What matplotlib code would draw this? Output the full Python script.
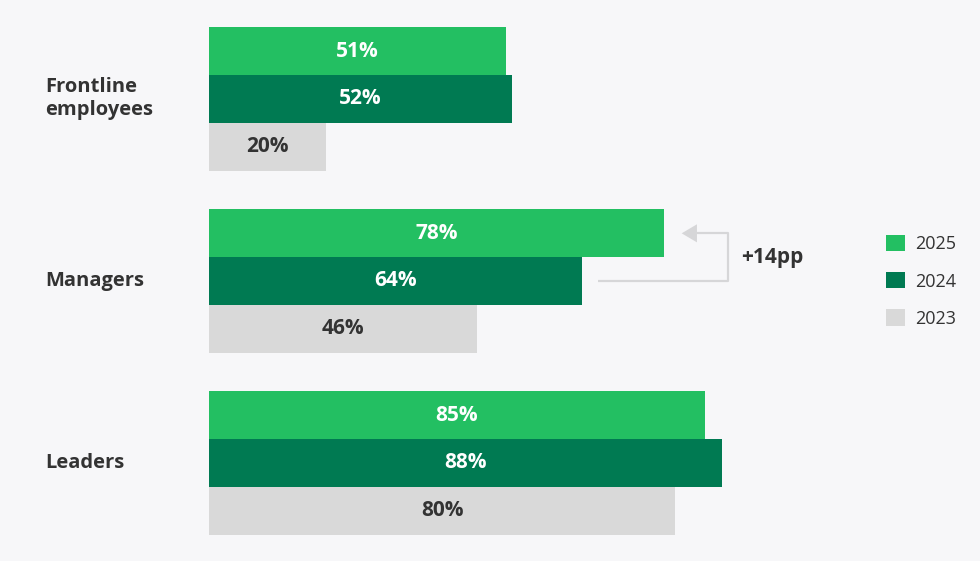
import matplotlib.pyplot as plt
from matplotlib.patches import Patch

groups = ["Frontline\nemployees", "Managers", "Leaders"]
years = ["2025", "2024", "2023"]
values = {
    "2025": [51, 78, 85],
    "2024": [52, 64, 88],
    "2023": [20, 46, 80],
}
colors = {"2025": "#23bf62", "2024": "#007a52", "2023": "#d9d9d9"}
label_colors = {"2025": "white", "2024": "white", "2023": "#333333"}
bg = "#f7f7f9"

plt.rcParams['font.family'] = ['Open Sans', 'DejaVu Sans']

fig = plt.figure(figsize=(9.8, 5.61), dpi=100, facecolor=bg)
ax = fig.add_axes([0, 0, 1, 1])
ax.set_facecolor(bg)

px = 5.83          # pixels per percentage point
gap = 182.0        # pixels between group centres
ax.set_xlim(-209 / px, (980 - 209) / px)
ax.set_ylim((561 - 99) / gap, -99 / gap)
ax.axis("off")

h = 0.262
for i, yr in enumerate(years):
    off = (i - 1) * h
    for g, v in enumerate(values[yr]):
        ax.barh(g + off, v, height=h, color=colors[yr], edgecolor="none")
        ax.text(v / 2, g + off, f"{v}%", ha="center", va="center",
                fontsize=15, fontweight="bold", color=label_colors[yr])

for g, name in enumerate(groups):
    ax.text(-164 / px, g, name, ha="left", va="center", fontsize=14.5,
            fontweight="bold", color="#333333", linespacing=1.2)

# +14pp bracket for Managers (2024 -> 2025)
grey = "#d6d6d8"
v25 = values["2025"][1]
x0 = values["2024"][1] + 2.7
xr = v25 + 11.0
y25 = 1 - h
y24 = 1
ax.plot([x0, xr, xr, v25 + 5.0], [y24, y24, y25, y25],
        color=grey, lw=1.6, solid_capstyle="butt")
ax.annotate("", xy=(v25 + 2.6, y25), xytext=(v25 + 5.4, y25),
            arrowprops=dict(arrowstyle="-|>,head_length=1.1,head_width=0.65",
                            color=grey, lw=0))
ax.text(xr + 2.2, (y24 + y25) / 2, "+14pp", ha="left", va="center",
        fontsize=15, fontweight="bold", color="#333333")

handles = [Patch(facecolor=colors[yr], edgecolor="none", label=yr) for yr in years]
fig.legend(handles=handles, loc="upper left", bbox_to_anchor=(0.888, 0.61),
           frameon=False, fontsize=13, handlelength=1.0, handleheight=1.0,
           handletextpad=0.6, labelspacing=1.05, labelcolor="#333333")

fig.savefig("out.png", dpi=100, facecolor=bg)
